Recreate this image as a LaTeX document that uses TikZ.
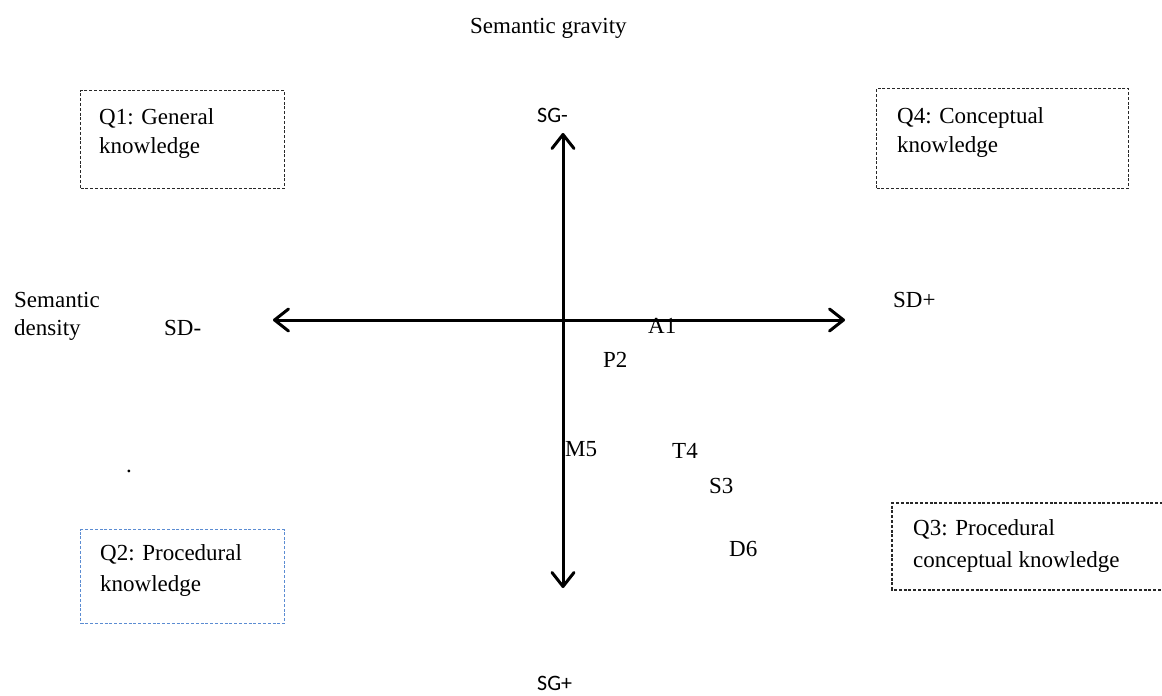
\documentclass[tikz,border=0pt]{standalone}
\usepackage{fontspec}
\setmainfont{Liberation Serif}
\newfontfamily\calib{Carlito}
\usetikzlibrary{arrows.meta}
\definecolor{boxgrey}{RGB}{40,40,40}
\definecolor{boxblue}{RGB}{91,140,210}
\tikzset{
  lbl/.style={anchor=base west, inner sep=0pt, font=\fontsize{23}{29}\selectfont},
  sgl/.style={anchor=base west, inner sep=0pt, font=\calib\fontsize{22}{26}\selectfont},
  qbox/.style={draw=boxgrey, line width=1.1pt, dash pattern=on 3pt off 1.8pt, anchor=north west, inner sep=0pt},
  axis/.style={line width=3pt, {Straight Barb[length=14pt,width=22pt,round]}-{Straight Barb[length=14pt,width=22pt,round]}}
}
\begin{document}
\begin{tikzpicture}[x=1pt,y=-1pt]
\useasboundingbox (0,0) rectangle (1162,696);
% title
\node[lbl] (title) at (470,33) {Semantic gravity};
% axes
\coordinate (top) at (563,133);
\coordinate (bot) at (563,588);
\coordinate (lft) at (273,320);
\coordinate (rgt) at (845,320);
\draw[axis] (lft) -- (rgt);
\draw[axis] (top) -- (bot);
% axis labels
\node[sgl] (sgm) at (537,122) {SG-};
\node[sgl] (sgp) at (537,690) {SG+};
\node[lbl] (sdm) at (164,335) {SD-};
\node[lbl] (sdp) at (893,307) {SD+};
\node[lbl] (semd1) at (14,307) {Semantic};
\node[lbl] (semd2) at (14,335) {density};
% boxes
\node[qbox, minimum width=204pt, minimum height=98pt] (q1box) at (80,90) {};
\node[lbl] (q1a) at (99,124) {Q1: General};
\node[lbl] (q1b) at (99,153) {knowledge};
\node[qbox, minimum width=252pt, minimum height=100pt] (q4box) at (876,88) {};
\node[lbl] (q4a) at (897,123) {Q4: Conceptual};
\node[lbl] (q4b) at (897,152) {knowledge};
\node[qbox, draw=boxblue, minimum width=204pt, minimum height=94pt] (q2box) at (80,529) {};
\node[lbl] (q2a) at (100,560) {Q2: Procedural};
\node[lbl] (q2b) at (100,591) {knowledge};
\coordinate (q3tr) at (1163,503);
\coordinate (q3tl) at (892,503);
\coordinate (q3bl) at (892,590);
\coordinate (q3br) at (1163,590);
\draw[draw=boxgrey, line width=1.1pt, dash pattern=on 3pt off 1.8pt] (q3tr) -- (q3tl) -- (q3bl) -- (q3br);
\node[lbl] (q3a) at (913,535) {Q3: Procedural};
\node[lbl] (q3b) at (913,567) {conceptual knowledge};
% points
\node[lbl] (a1) at (648,333) {A1};
\node[lbl] (p2) at (603,367) {P2};
\node[lbl] (m5) at (565,456) {M5};
\node[lbl] (t4) at (672,458) {T4};
\node[lbl] (s3) at (709,493) {S3};
\node[lbl] (d6) at (729,556) {D6};
\node[lbl] (dot) at (126,472) {.};
\end{tikzpicture}
\end{document}
